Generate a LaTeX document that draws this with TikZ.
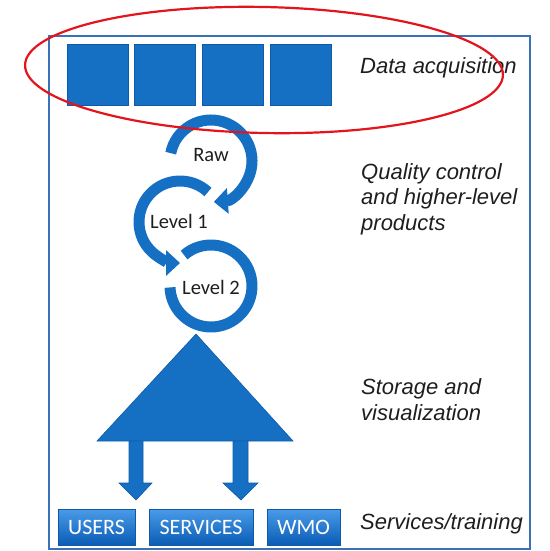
\documentclass[tikz,border=0pt]{standalone}
\usepackage{fontspec}
\setmainfont{Liberation Sans}
\newfontfamily\calfont{Carlito}
\usetikzlibrary{arrows.meta}
\definecolor{blu}{HTML}{1570C4}
\definecolor{bluedge}{HTML}{0E5AA6}
\definecolor{frameblue}{HTML}{3A72B8}
\definecolor{redring}{HTML}{E3141B}
\definecolor{boxtop}{HTML}{4A9BE8}
\definecolor{boxbot}{HTML}{0A5CB5}
\definecolor{txt}{HTML}{1E1E1E}
\tikzset{
  sq/.style={fill=blu, draw=bluedge, line width=0.8pt, minimum width=61pt, minimum height=61pt, inner sep=0pt},
  ring/.style={draw=blu, line width=11pt, line cap=butt},
  ringarrow/.style={ring, -{Triangle[width=25pt,length=14pt]}},
  ringlabel/.style={font=\calfont\fontsize{20.5}{24}\selectfont, text=txt, inner sep=0pt},
  stage/.style={font=\itshape\fontsize{22}{25.5}\selectfont, text=txt, align=left, inner sep=0pt, anchor=base west},
  outbox/.style={top color=boxtop, bottom color=boxbot, draw=bluedge, line width=0.6pt,
     text=white, font=\calfont\fontsize{22}{24}\selectfont, inner sep=0pt, minimum height=36pt},
  downarrow/.style={fill=blu, draw=bluedge, line width=0.6pt},
}
\begin{document}
\begin{tikzpicture}[x=1pt,y=1pt]
\useasboundingbox (0,0) rectangle (549,-551);
% frame
\draw[frameblue, line width=1.5pt] (49,-36) rectangle (530,-549);
% data acquisition squares
\node[sq] (s1) at (97.5,-74.5) {};
\node[sq] (s2) at (165,-74.5) {};
\node[sq] (s3) at (233,-74.5) {};
\node[sq] (s4) at (301,-74.5) {};
% circular arrows
\coordinate (craw) at (211,-161);
\coordinate (cl1) at (180,-222);
\coordinate (cl2) at (211,-286);
\draw[ringarrow] ([shift={(169:41)}]craw) arc[start angle=169, end angle=-86, radius=41];
\draw[ringarrow] ([shift={(47:41)}]cl1) arc[start angle=47, end angle=270, radius=41];
\draw[ring] ([shift={(131:41)}]cl2) arc[start angle=131, end angle=-178, radius=41];
\node[ringlabel] (raw) at (211,-155) {Raw};
\node[ringlabel] (lev1) at (179,-221) {Level 1};
\node[ringlabel] (lev2) at (211,-287) {Level 2};
% storage triangle and arrows
\draw[downarrow] (129,-436) -- (143,-436) -- (143,-483) -- (152,-483) -- (136,-500) -- (119,-483) -- (129,-483) -- cycle;
\draw[downarrow] (233,-436) -- (248,-436) -- (248,-483) -- (258,-483) -- (241,-500) -- (223,-483) -- (233,-483) -- cycle;
\filldraw[fill=blu, draw=bluedge, line width=0.6pt] (196,-334) -- (293,-441) -- (97,-441) -- cycle;
% output boxes
\node[outbox, minimum width=77pt] (users) at (96.5,-527) {USERS};
\node[outbox, minimum width=104pt] (services) at (201,-527) {SERVICES};
\node[outbox, minimum width=73pt] (wmo) at (303.5,-527) {WMO};
% stage labels (anchor = baseline of last line)
\node[stage] (lda) at (360,-73.5) {Data acquisition};
\node[stage] (lqc) at (361,-230) {Quality control\\and higher-level\\products};
\node[stage] (lsv) at (361,-420) {Storage and\\visualization};
\node[stage] (lst) at (360,-529) {Services/training};
% red ellipse
\draw[redring, line width=2.2pt, rotate around={-1.2:(264,-70)}] (264,-70) ellipse [x radius=239, y radius=63];
\end{tikzpicture}
\end{document}
